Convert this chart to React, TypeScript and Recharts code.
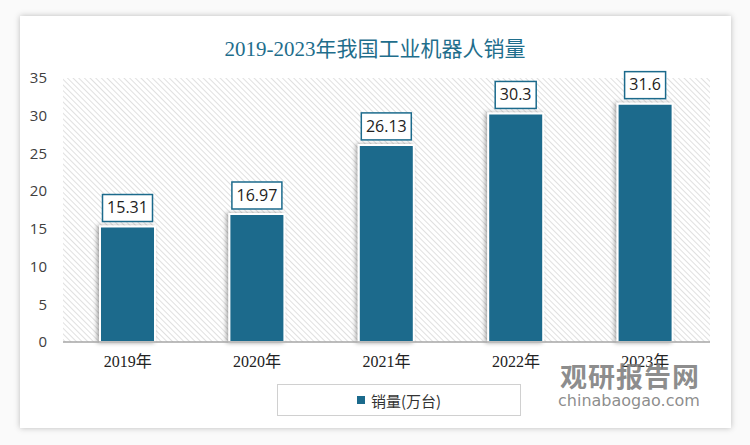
import React from "react";
import {
  BarChart,
  Bar,
  XAxis,
  YAxis,
  ReferenceArea,
  LabelList,
} from "recharts";

const years = ["2019年", "2020年", "2021年", "2022年", "2023年"];
const sales = [15.31, 16.97, 26.13, 30.3, 31.6];
const yTicks = [0, 5, 10, 15, 20, 25, 30, 35];

const data = years.map((year, i) => ({ year, sales: sales[i] }));

const BLUE = "#1b6a8c";

// boxed value label above each bar
const BoxLabel = (props: any) => {
  const { x, y, width, value } = props;
  const text = String(value);
  const digits = text.replace(".", "").length;
  const w = digits * 9 + (text.includes(".") ? 4 : 0) + 10;
  const h = 27;
  const cx = x + width / 2;
  const top = y - 5 - h;
  return (
    <g>
      <rect
        x={cx - w / 2}
        y={top}
        width={w}
        height={h}
        fill="#fff"
        stroke={BLUE}
        strokeWidth={1.5}
      />
      <text
        x={cx}
        y={top + h / 2 + 1}
        textAnchor="middle"
        dominantBaseline="middle"
        fontSize={16}
        fontFamily="'Open Sans', sans-serif"
        fill="#222"
      >
        {text}
      </text>
    </g>
  );
};

export default function App() {
  return (
    <div
      style={{
        position: "absolute",
        left: 0,
        top: 0,
        width: 750,
        height: 445,
        background: "#fafafa",
        overflow: "hidden",
      }}
    >
      <svg width={0} height={0} style={{ position: "absolute" }}>
        <defs>
          <pattern
            id="hatch"
            width={4}
            height={4}
            patternUnits="userSpaceOnUse"
            patternTransform="rotate(-45)"
          >
            <rect width={4} height={4} fill="#fff" />
            <line x1={0} y1={0} x2={0} y2={4} stroke="#d6d6d6" strokeWidth={1.5} />
          </pattern>
          <filter id="barShadow" x="-20%" y="-10%" width="140%" height="120%">
            <feDropShadow dx={-2} dy={0} stdDeviation={2} floodColor="#000" floodOpacity={0.35} />
          </filter>
        </defs>
      </svg>
      <div
        style={{
          position: "absolute",
          left: 20,
          top: 16,
          width: 711,
          height: 412,
          background: "#fff",
          boxShadow: "0 0 6px rgba(0,0,0,0.25)",
        }}
      />
      <div
        style={{
          position: "absolute",
          left: 0,
          top: 32,
          width: 750,
          textAlign: "center",
          fontFamily: "'Liberation Serif', 'Noto Sans CJK SC', serif",
          fontSize: 21,
          color: "#1f6e8c",
        }}
      >
        2019-2023年我国工业机器人销量
      </div>
      <div style={{ position: "absolute", left: 0, top: 0 }}>
        <BarChart
          width={750}
          height={445}
          data={data}
          margin={{ top: 78, right: 40, bottom: 73, left: 13 }}
        >
          <ReferenceArea y1={0} y2={35} fill="url(#hatch)" fillOpacity={1} stroke="none" />
          <XAxis
            dataKey="year"
            height={30}
            tickLine={false}
            axisLine={{ stroke: "#a6a6a6", strokeWidth: 1.5 }}
            tick={{
              fill: "#222",
              fontSize: 16,
              fontFamily: "'Liberation Serif', 'Noto Sans CJK SC', serif",
            }}
            tickMargin={8}
          />
          <YAxis
            width={50}
            domain={[0, 35]}
            ticks={yTicks}
            axisLine={false}
            tickLine={false}
            tick={{ fill: "#404040", fontSize: 15, fontFamily: "'Open Sans', sans-serif" }}
            tickMargin={10}
          />
          <Bar
            dataKey="sales"
            fill={BLUE}
            stroke="#fff"
            strokeWidth={2}
            barSize={55}
            filter="url(#barShadow)"
            isAnimationActive={false}
          >
            <LabelList dataKey="sales" content={BoxLabel} />
          </Bar>
        </BarChart>
      </div>
      <div
        style={{
          position: "absolute",
          left: 277,
          top: 384,
          width: 244,
          height: 32,
          boxSizing: "border-box",
          border: "1px solid #d0d0d0",
          display: "flex",
          alignItems: "center",
          justifyContent: "center",
          fontFamily: "'Noto Sans CJK SC', sans-serif",
          fontSize: 15,
          color: "#333",
          background: "#fff",
        }}
      >
        <span
          style={{
            display: "inline-block",
            width: 8,
            height: 8,
            background: BLUE,
            marginRight: 6,
          }}
        />
        销量(万台)
      </div>
      <div
        style={{
          position: "absolute",
          left: 560,
          top: 361,
          fontFamily: "'Noto Sans CJK SC', sans-serif",
          fontWeight: 700,
          fontSize: 27,
          lineHeight: "30px",
          color: "rgba(120,120,120,0.85)",
          letterSpacing: 1,
        }}
      >
        观研报告网
      </div>
      <div
        style={{
          position: "absolute",
          left: 558,
          top: 392,
          fontFamily: "'DejaVu Sans', sans-serif",
          fontSize: 16,
          lineHeight: "18px",
          color: "rgba(120,120,120,0.85)",
        }}
      >
        chinabaogao.com
      </div>
    </div>
  );
}
